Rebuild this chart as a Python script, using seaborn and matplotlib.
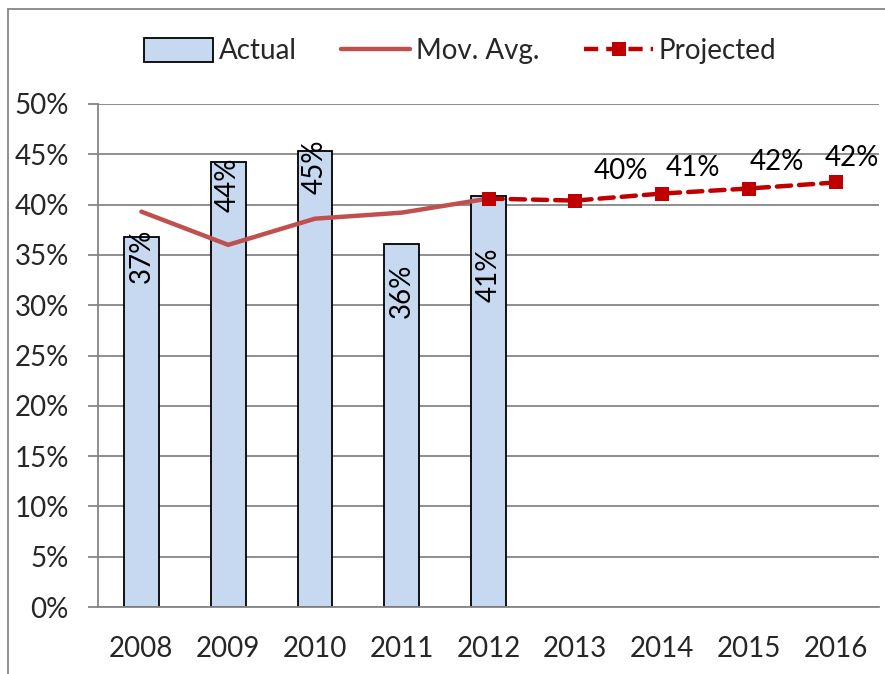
import numpy as np
import pandas as pd
import matplotlib
matplotlib.use("Agg")
import matplotlib.pyplot as plt
from matplotlib.patches import Patch
from matplotlib.lines import Line2D
import seaborn as sns

# ---- data ----
years = ['2008', '2009', '2010', '2011', '2012', '2013', '2014', '2015', '2016']
actual_years = ['2008', '2009', '2010', '2011', '2012']
actual = [36.8, 44.2, 45.3, 36.1, 40.9]
actual_labels = ['37%', '44%', '45%', '36%', '41%']
mov_avg = [39.3, 36.0, 38.6, 39.2, 40.6]
proj_years = ['2012', '2013', '2014', '2015', '2016']
projected = [40.6, 40.4, 41.1, 41.6, 42.2]
proj_labels = ['', '40%', '41%', '42%', '42%']
yticks = [0, 5, 10, 15, 20, 25, 30, 35, 40, 45, 50]

# ---- style ----
sns.set_theme(style="white")
plt.rcParams['font.family'] = ['Lato', 'DejaVu Sans']
FS = 20
GRAY = '#868686'
BAR = '#C6D9F1'
MA = '#C0504D'
PR = '#C00000'

fig = plt.figure(figsize=(8.85, 6.74), dpi=100)
ax = fig.add_axes([98/885, 1-607/674, (879-98)/885, (607-104)/674])

df = pd.DataFrame({'year': actual_years, 'actual': actual})
sns.barplot(data=df, x='year', y='actual', order=years, color=BAR,
            edgecolor='black', linewidth=1.3, width=0.4, saturation=1, ax=ax, zorder=2)

pos = {y: i for i, y in enumerate(years)}
ma_x = [pos[y] for y in actual_years]
pr_x = [pos[y] for y in proj_years]

sns.lineplot(x=ma_x, y=mov_avg, color=MA, linewidth=3.2, ax=ax, zorder=3,
             solid_capstyle='round')
sns.lineplot(x=pr_x, y=projected, color=PR, linewidth=3.2, ax=ax, zorder=4,
             marker='s', markersize=10, markeredgewidth=0)
ax.lines[-1].set_dashes([3.2, 1.8])
ax.lines[-1].set_dash_capstyle('round')

# bar labels (rotated, inside top)
bar_offsets = [-1.9, -2.2, -1.5, -4.7, -7.9]
for xv, v, lab, off in zip(ma_x, actual, actual_labels, bar_offsets):
    ax.text(xv, v + off, lab, rotation=90, ha='center', va='center',
            fontsize=FS, color='black', zorder=5)

# projected labels
lab_dx = [0, 0.525, 0.355, 0.32, 0.19]
lab_dy = [0, 2.9, 2.5, 2.6, 2.4]
for xv, v, lab, dx, dy in zip(pr_x, projected, proj_labels, lab_dx, lab_dy):
    if lab:
        ax.text(xv + dx, v + dy, lab, ha='center', va='center',
                fontsize=FS, color='black', zorder=5)

ax.set_xlim(-0.5, len(years) - 0.5)
ax.set_ylim(0, 50)
ax.set_yticks(yticks)
ax.set_yticklabels([f'{t}%' for t in yticks], fontsize=FS)
ax.set_xticks(range(len(years)))
ax.set_xticklabels(years, fontsize=FS)
ax.set_xticks(np.arange(-0.5, len(years)), minor=True)
ax.tick_params(axis='x', which='major', length=0, pad=21)
ax.tick_params(axis='x', which='minor', length=7, width=1.3, color=GRAY, direction='out')
ax.tick_params(axis='y', length=7, width=1.3, color=GRAY, direction='out', pad=14, left=True)
ax.set_xlabel('')
ax.set_ylabel('')
ax.yaxis.grid(True, color=GRAY, linewidth=1.3, zorder=0)
ax.xaxis.grid(False)
ax.set_axisbelow(True)
for s in ['top', 'right']:
    ax.spines[s].set_visible(False)
for s in ['left', 'bottom']:
    ax.spines[s].set_color(GRAY)
    ax.spines[s].set_linewidth(1.3)

# legend
handles = [
    Patch(facecolor=BAR, edgecolor='black', linewidth=1.3, label='Actual'),
    Line2D([0], [0], color=MA, linewidth=3.2, solid_capstyle='round', label='Mov. Avg.'),
    Line2D([0], [0], color=PR, linewidth=3.2, linestyle=(0, (3.2, 1.8)), marker='s',
           markersize=10, markeredgewidth=0, label='Projected'),
]
fig.legend(handles=handles, loc='center', bbox_to_anchor=(460/885, 1-51/674), ncol=3,
           frameon=False, fontsize=FS, handlelength=2.5, handletextpad=0.2,
           columnspacing=1.6, handleheight=1.0)

# chart frame
fig.add_artist(Line2D([8/885, 8/885], [0, 1-9/674], transform=fig.transFigure,
                      color=GRAY, linewidth=1.3))
fig.add_artist(Line2D([8/885, 1], [1-9/674, 1-9/674], transform=fig.transFigure,
                      color=GRAY, linewidth=1.3))

fig.savefig('out.png', dpi=100)
